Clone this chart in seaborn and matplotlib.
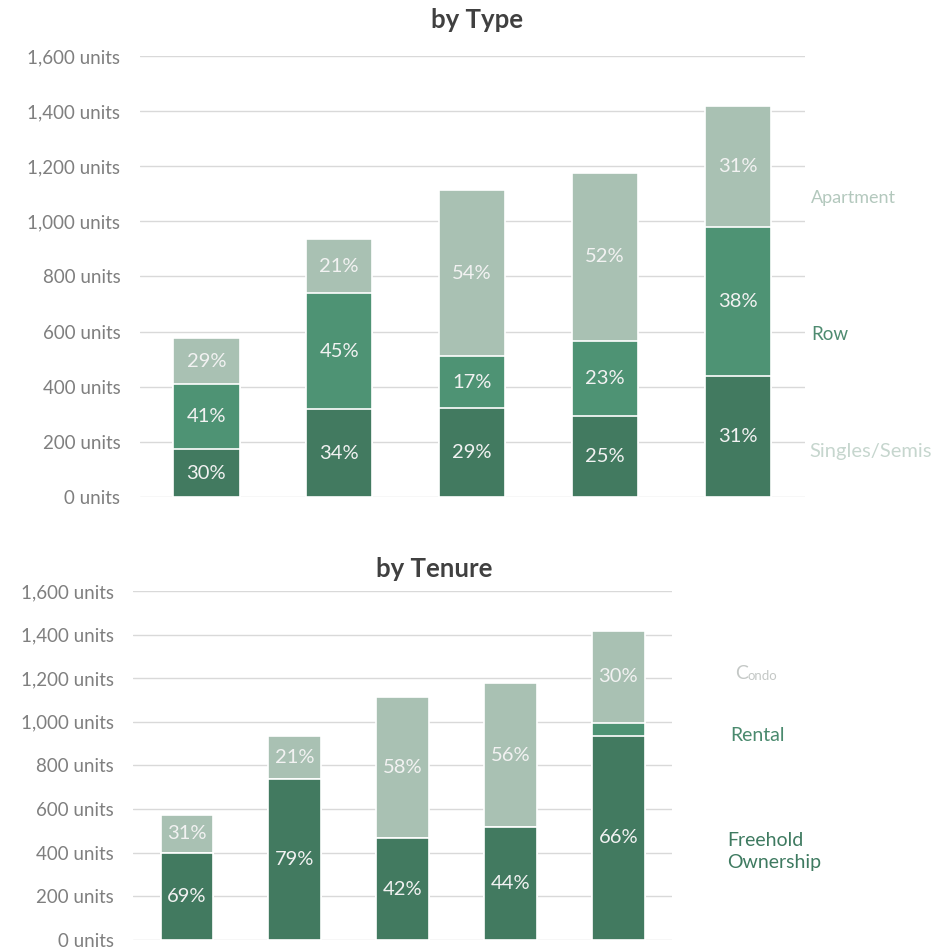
import numpy as np
import pandas as pd
import seaborn as sns
import matplotlib.pyplot as plt
import matplotlib.transforms as mtransforms

# five projects / periods, no x labels shown in the chart
groups = ["A", "B", "C", "D", "E"]

# by Type (units)
singles = [172, 318, 322, 294, 440]
row = [236, 421, 189, 271, 539]
apartment = [167, 196, 601, 612, 439]
singles_pct = ["30%", "34%", "29%", "25%", "31%"]
row_pct = ["41%", "45%", "17%", "23%", "38%"]
apartment_pct = ["29%", "21%", "54%", "52%", "31%"]

# by Tenure (units)
freehold = [397, 739, 467, 518, 936]
rental = [0, 0, 0, 0, 57]
condo = [178, 196, 645, 659, 425]
freehold_pct = ["69%", "79%", "42%", "44%", "66%"]
rental_pct = ["", "", "", "", ""]
condo_pct = ["31%", "21%", "58%", "56%", "30%"]

yticks = [0, 200, 400, 600, 800, 1000, 1200, 1400, 1600]

DARK = "#427A60"
MID = "#4E9374"
LIGHT = "#A9C1B3"

sns.set_theme(style="white")
plt.rcParams["font.family"] = ["Lato", "DejaVu Sans"]


def stacked(ax, layers, pcts, colors, width):
    df = pd.DataFrame({"group": groups})
    cum = np.cumsum(np.array(layers), axis=0)
    # draw tallest first so lower layers sit on top
    for k in range(len(layers) - 1, -1, -1):
        df["val"] = cum[k]
        sns.barplot(data=df, x="group", y="val", color=colors[k], width=width,
                    saturation=1, edgecolor="white", linewidth=1.2, ax=ax)
    for k, (vals, labels) in enumerate(zip(layers, pcts)):
        base = cum[k] - np.array(vals)
        for i, lab in enumerate(labels):
            if lab:
                ax.text(i, base[i] + vals[i] / 2, lab, ha="center", va="center",
                        color="#F2F2F2", fontsize=14.5)


def style_axis(ax):
    ax.set_ylim(0, 1600)
    ax.set_yticks(yticks)
    ax.set_yticklabels([f"{v:,} units" for v in yticks], color="#7F7F7F", fontsize=13.5)
    ax.set_xticks([])
    ax.set_xlabel("")
    ax.set_ylabel("")
    ax.grid(axis="y", color="#D9D9D9", linewidth=1)
    ax.set_axisbelow(True)
    ax.tick_params(axis="y", length=0, pad=14)
    for s in ax.spines.values():
        s.set_visible(False)


fig = plt.figure(figsize=(9.51, 9.50), dpi=100)

ax1 = fig.add_axes([0.147, 0.477, 0.699, 0.464])
stacked(ax1, [singles, row, apartment], [singles_pct, row_pct, apartment_pct],
        [DARK, MID, LIGHT], 0.5)
style_axis(ax1)
ax1.set_title("by Type", fontsize=18.5, fontweight="bold", color="#404040", x=0.507, pad=20)
tr1 = mtransforms.blended_transform_factory(ax1.transAxes, ax1.transData)
ax1.text(1.01, 1085, "Apartment", transform=tr1, color="#B3C8BD", fontsize=13, va="center")
ax1.text(1.01, 588, "Row", transform=tr1, color="#4E8B70", fontsize=13.5, va="center")
ax1.text(1.007, 163, "Singles/Semis", transform=tr1, color="#C6D6CE", fontsize=14.5, va="center")

ax2 = fig.add_axes([0.140, 0.0105, 0.567, 0.3675])
stacked(ax2, [freehold, rental, condo], [freehold_pct, rental_pct, condo_pct],
        [DARK, MID, LIGHT], 0.49)
style_axis(ax2)
ax2.set_title("by Tenure", fontsize=18.5, fontweight="bold", color="#404040", x=0.558, pad=10)
tr2 = mtransforms.blended_transform_factory(ax2.transAxes, ax2.transData)
c = ax2.text(1.116, 1195, "C", transform=tr2, color="#C4C8C6", fontsize=14, va="baseline")
ax2.annotate("ondo", xy=(1, 0), xycoords=c, color="#C4C8C6", fontsize=9.5, va="bottom")
ax2.text(1.108, 937, "Rental", transform=tr2, color="#4A8A6E", fontsize=14, va="center")
ax2.text(1.102, 404, "Freehold\nOwnership", transform=tr2, color="#3E7A60", fontsize=14,
         va="center", linespacing=1.35)

plt.savefig("out.png", dpi=100)
